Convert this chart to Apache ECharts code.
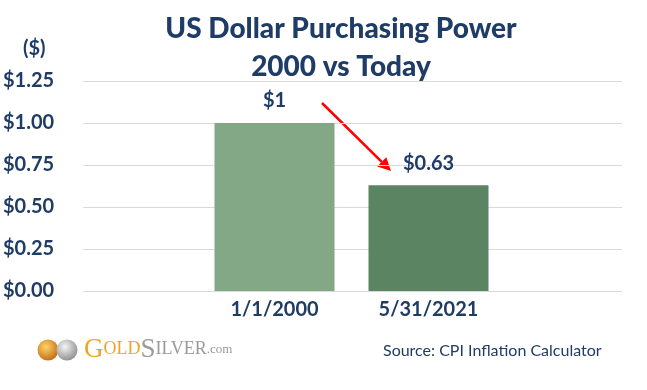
<!DOCTYPE html>
<html>
<head>
<meta charset="utf-8">
<script src="https://cdn.jsdelivr.net/npm/echarts@6/dist/echarts.min.js"></script>
<style>
html,body{margin:0;padding:0;background:#fff;}
#chart{width:647px;height:390px;}
</style>
</head>
<body>
<div id="chart"></div>
<script>
// ---- data ----
const categories = ['1/1/2000', '5/31/2021'];
const values = [1, 0.63];
const valueLabels = ['$1', '$0.63'];
const barColors = ['#82a886', '#5b8462'];
const yMin = 0, yMax = 1.25, yStep = 0.25;
const titleLines = ['US Dollar Purchasing Power', '2000 vs Today'];
const unitLabel = '($)';
const sourceText = 'Source: CPI Inflation Calculator';

const NAVY = '#1f3c66';
const FONT = 'Lato, "Noto Sans", sans-serif';

const chart = echarts.init(document.getElementById('chart'));

// arrow geometry (annotation)
const a0 = [322, 103], a1 = [391, 171];
const dx = a1[0] - a0[0], dy = a1[1] - a0[1];
const len = Math.sqrt(dx * dx + dy * dy);
const ux = dx / len, uy = dy / len;
const headL = 13, headW = 6.5;
const bx = a1[0] - ux * headL, by = a1[1] - uy * headL;

const option = {
  backgroundColor: '#fff',
  animation: false,
  title: {
    text: titleLines.join('\n'),
    left: 336,
    textAlign: 'center',
    top: 5,
    textStyle: { fontFamily: FONT, fontWeight: 900, fontSize: 28, color: NAVY, lineHeight: 38 }
  },
  grid: [
    { left: 82, right: 25, top: 81, bottom: 99 },
    { left: 197.5, right: 141.5, top: 81, bottom: 99 }
  ],
  xAxis: [
    { type: 'category', gridIndex: 0, data: [''], show: false },
    {
      type: 'category', gridIndex: 1, data: categories,
      axisLine: { show: false }, axisTick: { show: false },
      axisLabel: { margin: 9, fontFamily: FONT, fontWeight: 'bold', fontSize: 20, color: NAVY, lineHeight: 20 }
    }
  ],
  yAxis: [
    {
      type: 'value', gridIndex: 0, min: yMin, max: yMax, interval: yStep,
      axisLine: { show: false }, axisTick: { show: false },
      splitLine: { lineStyle: { color: '#d9d9d9', width: 1 } },
      axisLabel: {
        margin: 29, fontFamily: FONT, fontWeight: 'bold', fontSize: 20, color: NAVY,
        formatter: v => '$' + v.toFixed(2)
      }
    },
    { type: 'value', gridIndex: 1, min: yMin, max: yMax, interval: yStep, show: false }
  ],
  series: [{
    type: 'bar',
    xAxisIndex: 1, yAxisIndex: 1,
    barWidth: 120,
    data: values.map((v, i) => ({ value: v, itemStyle: { color: barColors[i] } })),
    label: {
      show: true, position: 'top', distance: 12,
      fontFamily: FONT, fontWeight: 'bold', fontSize: 20, color: NAVY, lineHeight: 20,
      formatter: p => valueLabels[p.dataIndex]
    }
  }],
  graphic: [
    {
      type: 'text', left: 23, top: 39,
      style: { text: unitLabel, font: 'bold 20px ' + FONT, fill: NAVY }
    },
    {
      type: 'line',
      shape: { x1: a0[0], y1: a0[1], x2: bx, y2: by },
      style: { stroke: '#ff0000', lineWidth: 2.5 }
    },
    {
      type: 'polygon',
      shape: { points: [[a1[0], a1[1]], [bx - uy * headW, by + ux * headW], [bx + uy * headW, by - ux * headW]] },
      style: { fill: '#ff0000' }
    },
    // logo coins
    {
      type: 'circle', shape: { cx: 48, cy: 350, r: 10.5 },
      style: { fill: new echarts.graphic.RadialGradient(0.4, 0.35, 0.7, [{ offset: 0, color: '#ffd36a' }, { offset: 1, color: '#c06a10' }]) }
    },
    {
      type: 'circle', shape: { cx: 67, cy: 350, r: 10.5 },
      style: { fill: new echarts.graphic.RadialGradient(0.4, 0.35, 0.7, [{ offset: 0, color: '#f4f4f4' }, { offset: 1, color: '#8c8c8c' }]) }
    },
    {
      type: 'text', left: 84, top: 336,
      style: {
        text: '{g|G}{gs|OLD}{s|S}{ss|ILVER}{c|.com}',
        rich: {
          g: { fontFamily: '"Liberation Serif", serif', fontSize: 27, fill: '#f0a326' },
          gs: { fontFamily: '"Liberation Serif", serif', fontSize: 18, fill: '#f0a326' },
          s: { fontFamily: '"Liberation Serif", serif', fontSize: 27, fill: '#9a9a9a' },
          ss: { fontFamily: '"Liberation Serif", serif', fontSize: 18, fill: '#9a9a9a' },
          c: { fontFamily: '"Liberation Serif", serif', fontSize: 13, fill: '#9a9a9a' }
        }
      }
    },
    {
      type: 'text', left: 383, top: 343,
      style: { text: sourceText, font: '16px ' + FONT, fill: NAVY }
    }
  ]
};
chart.setOption(option);
</script>
</body>
</html>
